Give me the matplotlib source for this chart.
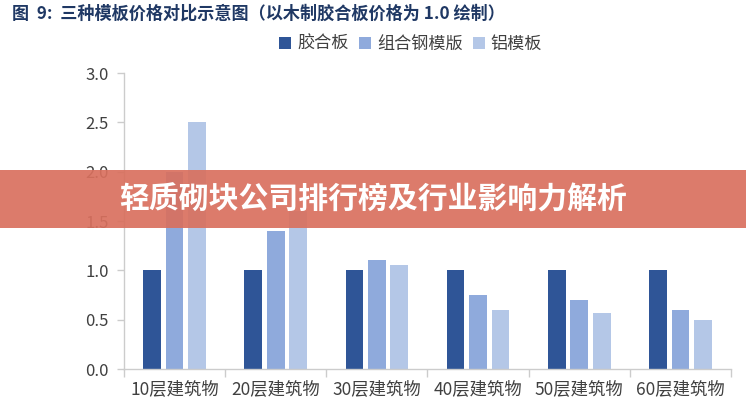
import numpy as np
import matplotlib
matplotlib.use("Agg")
import matplotlib.pyplot as plt
from matplotlib.patches import Rectangle

plt.rcParams['font.family'] = ['Noto Sans CJK SC', 'DejaVu Sans']

categories = ['10层建筑物', '20层建筑物', '30层建筑物', '40层建筑物', '50层建筑物', '60层建筑物']
series_names = ['胶合板', '组合钢模版', '铝模板']
plywood = [1.0, 1.0, 1.0, 1.0, 1.0, 1.0]
steel = [2.0, 1.4, 1.1, 0.75, 0.7, 0.6]
aluminium = [2.5, 1.6, 1.05, 0.6, 0.57, 0.5]
colors = ['#2F5597', '#8FAADC', '#B4C7E7']

title = '图  9:  三种模板价格对比示意图（以木制胶合板价格为 1.0 绘制）'
banner = '轻质砌块公司排行榜及行业影响力解析'

fig = plt.figure(figsize=(7.46, 4.0), dpi=100)
ax = fig.add_axes([0.166, 0.0775, 0.814, 0.74])

x = np.arange(len(categories))
width = 0.175
step = 0.222
for i, (vals, name) in enumerate(zip([plywood, steel, aluminium], series_names)):
    ax.bar(x + (i - 1) * step, vals, width, color=colors[i], label=name, zorder=2)

ax.set_xlim(-0.5, len(categories) - 0.5)
ax.set_ylim(0, 3.0)
ax.set_yticks(np.arange(0, 3.01, 0.5))
ax.set_yticklabels([f'{v:.1f}' for v in np.arange(0, 3.01, 0.5)])

# boundaries as major ticks, labels at the centres
ax.set_xticks(np.arange(-0.5, len(categories), 1.0))
ax.set_xticklabels([])
ax.set_xticks(x, minor=True)
ax.set_xticklabels(categories, minor=True)
ax.tick_params(axis='x', which='major', length=6, color='#cccccc', width=1)
ax.tick_params(axis='x', which='minor', length=0, pad=8, labelsize=12.5, labelcolor='#404040')
ax.tick_params(axis='y', length=5, color='#cccccc', width=1, pad=6, labelsize=12, labelcolor='#404040')

for side in ['top', 'right']:
    ax.spines[side].set_visible(False)
for side in ['left', 'bottom']:
    ax.spines[side].set_color('#cccccc')
    ax.spines[side].set_linewidth(1)

ax.legend(loc='lower left', bbox_to_anchor=(0.245, 1.045), ncol=3, frameon=False,
          handlelength=0.7, handleheight=0.7, handletextpad=0.35, columnspacing=0.6,
          fontsize=12.3, labelcolor='#404040', borderaxespad=0)

fig.text(0.016, 0.965, title, fontsize=12.3, fontweight='bold', color='#1F3864',
         ha='left', va='center')

# overlay banner across the middle
fig.patches.append(Rectangle((0, 1 - 228 / 400), 1, 58 / 400, transform=fig.transFigure,
                             facecolor='#D9705E', alpha=0.92, zorder=10))
fig.text(0.5, 1 - 200 / 400, banner, fontsize=21.5, fontweight='bold', color='white',
         ha='center', va='center', zorder=11)

fig.savefig('out.png', dpi=100)
